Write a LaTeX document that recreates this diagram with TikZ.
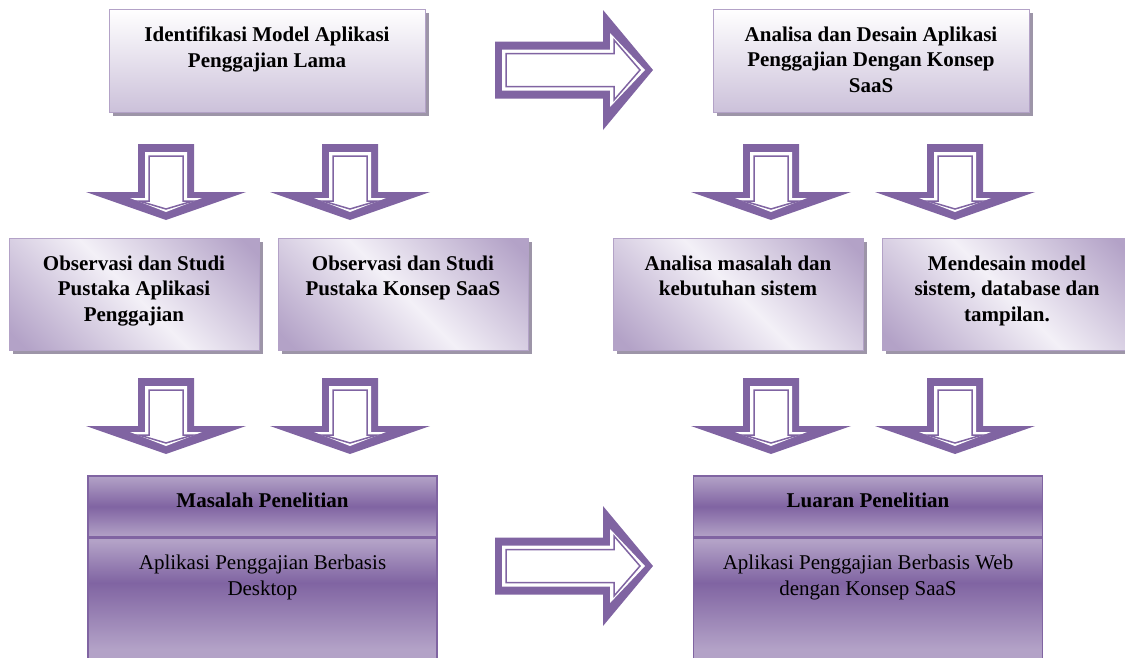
\documentclass[tikz,border=0pt]{standalone}
\usepackage{fontspec}
\setmainfont{Liberation Serif}
\usetikzlibrary{positioning,shadows}

\definecolor{ungu}{HTML}{8064A2}
\definecolor{ungumuda}{HTML}{B3A2C7}
\definecolor{lavender}{HTML}{CCC1DA}
\definecolor{pucat}{HTML}{F3F0F7}
\definecolor{bayang}{HTML}{9D95A8}

\pgfdeclarehorizontalshading{kilap}{100bp}{color(0bp)=(ungumuda); color(18bp)=(ungumuda); color(50bp)=(pucat); color(82bp)=(ungumuda); color(100bp)=(ungumuda)}
\pgfdeclareverticalshading{pita}{100bp}{color(0bp)=(ungumuda); color(25bp)=(ungumuda); color(50bp)=(ungu); color(75bp)=(ungumuda); color(100bp)=(ungumuda)}
\pgfdeclareverticalshading{pitaisi}{100bp}{color(0bp)=(ungumuda); color(30bp)=(ungumuda); color(57bp)=(ungu); color(74bp)=(ungumuda); color(100bp)=(ungumuda)}

\tikzset{
  bayangan/.style={drop shadow={shadow xshift=4pt, shadow yshift=-4pt, fill=bayang, opacity=1}},
  kotak/.style={draw=ungumuda, line width=0.8pt, top color=white, bottom color=lavender, bayangan, minimum width=316pt, minimum height=103pt, inner sep=0pt},
  kotakkilap/.style={draw=ungumuda, line width=0.8pt, shading=kilap, shading angle=45, bayangan, minimum width=250pt, minimum height=112pt, inner sep=0pt},
  judul/.style={draw=ungu, line width=1.5pt, shading=pita, minimum width=349pt, minimum height=61pt, inner sep=0pt},
  isi/.style={draw=ungu, line width=1.5pt, shading=pitaisi, minimum width=349pt, minimum height=123pt, inner sep=0pt},
  teks/.style={font=\fontsize{21}{25.5}\selectfont\bfseries, align=center, anchor=north, inner sep=0pt},
  teksbiasa/.style={teks, font=\fontsize{21}{25.5}\selectfont},
  turun/.pic={
    \fill[ungu] (-28,0) -- (28,0) -- (28,48) -- (80,48) -- (0,76) -- (-80,48) -- (-28,48) -- cycle;
    \fill[white] (-21,8) -- (21,8) -- (21,54) -- (36,54) -- (0,68) -- (-36,54) -- (-21,54) -- cycle;
    \draw[ungu, line width=1.5pt] (-17,12) -- (17,12) -- (17,57) -- (27,57) -- (0,65) -- (-27,57) -- (-17,57) -- cycle;
  },
  kanan/.pic={
    \fill[ungu] (0,-28.5) -- (108,-28.5) -- (108,-60) -- (158,0) -- (108,60) -- (108,28.5) -- (0,28.5) -- cycle;
    \fill[white] (7,-20.5) -- (115,-20.5) -- (115,-37) -- (150,0) -- (115,37) -- (115,20.5) -- (7,20.5) -- cycle;
    \draw[ungu, line width=1.5pt] (11,-16.5) -- (119,-16.5) -- (119,-30) -- (145,0) -- (119,30) -- (119,16.5) -- (11,16.5) -- cycle;
  }
}

\begin{document}
\begin{tikzpicture}[x=1pt,y=-1pt]
  \path[use as bounding box, clip] (0,0) rectangle (1125,657);

  \node[kotak] (idm) at (267,60.5) {};
  \node[teks, below=18pt of idm.north] (idmteks) {Identifikasi Model Aplikasi\\Penggajian Lama};
  \node[kotak] (ads) at (871,60.5) {};
  \node[teks, below=18pt of ads.north] (adsteks) {Analisa dan Desain Aplikasi\\Penggajian Dengan Konsep\\SaaS};

  \node[kotakkilap] (obsapl) at (134,294) {};
  \node[teks, below=18pt of obsapl.north] (obsaplteks) {Observasi dan Studi\\Pustaka Aplikasi\\Penggajian};
  \node[kotakkilap] (obssaas) at (403,294) {};
  \node[teks, below=18pt of obssaas.north] (obssaasteks) {Observasi dan Studi\\Pustaka Konsep SaaS};
  \node[kotakkilap] (anl) at (738,294) {};
  \node[teks, below=18pt of anl.north] (anlteks) {Analisa masalah dan\\kebutuhan sistem};
  \node[kotakkilap] (dsn) at (1007,294) {};
  \node[teks, below=18pt of dsn.north] (dsnteks) {Mendesain model\\sistem, database dan\\tampilan.};

  \node[judul] (mslh) at (262.5,506.5) {};
  \node[isi, below=0pt of mslh] (mslhisi) {};
  \node[teks, below=17pt of mslh.north] (mslhteks) {Masalah Penelitian};
  \node[teksbiasa, below=17pt of mslhisi.north] (mslhisiteks) {Aplikasi Penggajian Berbasis\\Desktop};
  \node[judul] (luar) at (868,506.5) {};
  \node[isi, below=0pt of luar] (luarisi) {};
  \node[teks, below=17pt of luar.north] (luarteks) {Luaran Penelitian};
  \node[teksbiasa, below=17pt of luarisi.north] (luarisiteks) {Aplikasi Penggajian Berbasis Web\\dengan Konsep SaaS};

  \pic at (495,70) {kanan};
  \pic at (495,566) {kanan};
  \foreach \x in {166,350,771,955} {
    \pic at (\x,144) {turun};
    \pic at (\x,378) {turun};
  }
\end{tikzpicture}
\end{document}
